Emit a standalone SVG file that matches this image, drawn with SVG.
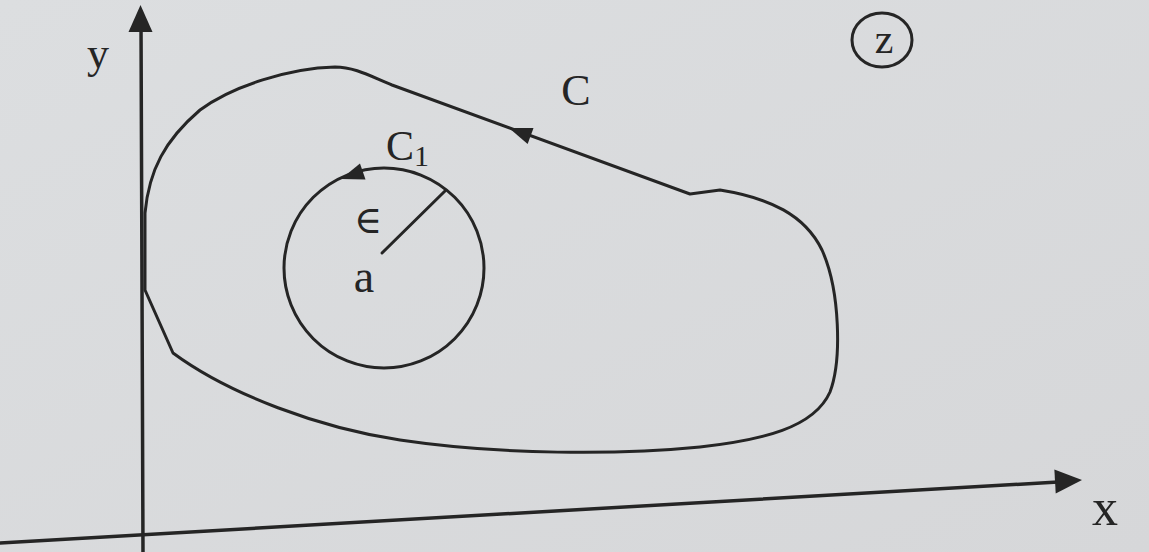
<svg xmlns="http://www.w3.org/2000/svg" width="1149" height="552" viewBox="0 0 1149 552">
  <style>
    .ln { fill: none; stroke: #252525; stroke-linecap: round; stroke-linejoin: round; }
    .axis { stroke-width: 3.5; }
    .curve { stroke-width: 3; }
    .head { fill: #252525; }
    .lbl { font-family: "Liberation Serif", "DejaVu Serif", serif; fill: #252525; }
  </style>
  <defs>
    <linearGradient id="bg" x1="0" y1="0" x2="1" y2="1">
      <stop offset="0" stop-color="#dcdee0"/>
      <stop offset="1" stop-color="#d6d7d9"/>
    </linearGradient>
    <path id="ah" d="M0,0 L-23,-8.5 L-23,8.5 Z"/>
    <path id="axh" d="M0,0 L-27,-12 L-27,12 Z"/>
  </defs>
  <rect x="0" y="0" width="1149" height="552" fill="url(#bg)"/>

  <g id="connectors">
    <g id="y-axis">
      <line class="ln axis" x1="143" y1="552" x2="141" y2="22"/>
      <use href="#axh" class="head" transform="translate(140.5,5) rotate(-90)"/>
    </g>
    <g id="x-axis">
      <line class="ln axis" x1="0" y1="543" x2="1058" y2="482"/>
      <use href="#axh" class="head" transform="translate(1082,480) rotate(-3.3)"/>
    </g>
  </g>

  <g id="curve-C">
    <path class="ln curve" d="M145,213 C149,170 165,140 200,110 C232,86 290,68 335,67 C355,67 372,77 392,85 L690,194 L720,190 C770,198 805,215 822,250 C840,290 842,360 830,392 C814,428 762,440 700,447 C620,455 500,455 400,440 C320,428 230,395 173,353 L145,290 Z"/>
    <use href="#ah" class="head" transform="translate(509,128) rotate(200.3)"/>
  </g>

  <g id="circle-C1">
    <circle class="ln curve" cx="384" cy="268" r="100"/>
    <use href="#ah" class="head" transform="translate(341,179) rotate(161)"/>
    <line class="ln curve" x1="382" y1="253" x2="445" y2="191"/>
  </g>

  <g id="labels">
    <text class="lbl" x="98" y="68" font-size="44" text-anchor="middle">y</text>
    <text class="lbl" x="1105" y="525" font-size="52" text-anchor="middle">x</text>
    <text class="lbl" x="576" y="105" font-size="44" text-anchor="middle">C</text>
    <text class="lbl" x="386" y="160" font-size="42">C<tspan font-size="30" dy="6">1</tspan></text>
    <text class="lbl" x="368" y="233" font-size="38" text-anchor="middle">∈</text>
    <text class="lbl" x="364" y="292" font-size="46" text-anchor="middle">a</text>
  </g>

  <g id="z-plane">
    <ellipse class="ln" stroke-width="3" cx="882" cy="40" rx="30" ry="27"/>
    <text class="lbl" x="884" y="53" font-size="42" text-anchor="middle">z</text>
  </g>
</svg>
